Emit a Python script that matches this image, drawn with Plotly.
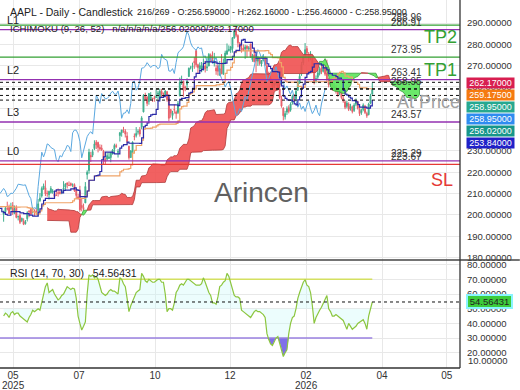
import numpy as np
import plotly.graph_objects as go

# ---------------- data ----------------
pre_high = [215.2, 215.15, 218.76, 217.49, 218.84, 221.48, 224.1, 225.02, 224.99, 223.81,
            225.62, 223.68, 225.19, 207.49, 199.88, 194.15, 190.34, 200.61, 194.78, 199.54,
            212.94, 203.51, 200.7, 198.83, 193.8, 201.59, 208.0, 208.83, 209.75, 211.5,
            212.24, 213.58, 214.56, 206.99, 204.1, 200.65, 199.44, 200.54, 200.54, 211.27,
            213.94, 213.4, 212.96, 212.57, 209.48, 208.62, 207.04, 202.75, 197.7, 200.74,
            202.73, 203.81, 201.96]
pre_low = [209.97, 211.49, 213.75, 212.22, 211.28, 218.58, 220.08, 220.47, 220.56, 217.68,
           216.23, 218.9, 221.02, 201.25, 187.34, 174.62, 169.21, 171.89, 183.0, 186.06,
           201.16, 199.8, 192.37, 194.42, 189.81, 195.97, 202.8, 202.94, 206.2, 207.46,
           208.37, 206.67, 208.9, 202.16, 198.21, 197.02, 193.25, 196.54, 197.54, 206.75,
           210.58, 211.06, 209.54, 209.77, 204.26, 205.03, 200.71, 199.7, 193.46, 197.43,
           199.9, 198.51, 196.78]

opens = [200.3, 201.4, 202.9, 203.5, 203.0, 204.4, 200.6, 203.5, 199.1, 199.7,
         197.3, 197.2, 195.9, 198.2, 201.6, 202.6, 201.5, 201.4, 201.9, 202.0,
         206.7, 208.9, 212.2, 212.7, 210.1, 209.5, 210.5, 210.6, 209.9, 209.2,
         210.3, 210.6, 210.9, 212.1, 213.1, 215.0, 213.9, 214.7, 214.0, 214.2,
         211.9, 208.5, 210.9, 204.5, 203.4, 205.6, 218.9, 220.8, 227.9, 228.0,
         231.1, 234.1, 234.0, 231.7, 231.3, 229.9, 226.3, 226.2, 226.5, 226.9,
         228.6, 230.8, 232.5, 229.3, 237.2, 238.5, 240.0, 239.3, 237.0, 232.2,
         226.9, 229.2, 237.0, 237.2, 238.9, 239.9, 241.2, 248.3, 255.9, 255.2,
         253.2, 254.1, 254.6, 254.9, 255.0, 256.6, 254.7, 257.9, 256.8, 256.5,
         257.8, 254.9, 249.4, 246.6, 249.5, 248.3, 248.0, 255.9, 261.9, 262.7,
         259.9, 261.2, 264.9, 269.0, 269.3, 272.0, 277.0, 270.4, 268.3, 268.6,
         267.9, 269.8, 269.0, 269.8, 275.0, 274.1, 271.1, 268.8, 270.0, 265.5,
         270.8, 266.0, 270.9, 275.3, 277.0, 277.3, 278.0, 283.0, 286.2, 284.1,
         280.5, 278.1, 278.2, 277.8, 279.1, 277.9, 280.2, 272.8, 275.0, 273.6,
         272.1, 272.9, 270.8, 272.3, 273.6, 270.0, 266.5, 264.3, 262.8, 260.3,
         261.5, 262.0, 259.0, 254.6, 250.0, 246.0, 248.2, 250.3, 249.1, 252.6,
         255.9, 254.5, 258.6, 262.0, 266.0, 271.2, 274.5, 278.0, 275.2, 274.0,
         274.2, 267.0, 263.0, 264.6, 266.2, 268.9, 267.4, 269.0, 266.5, 263.0,
         261.4, 262.0, 259.4, 260.0, 257.6, 256.9, 258.0, 254.6, 253.0, 250.9,
         252.0, 249.8, 250.6, 249.0, 251.9, 253.0, 249.6, 247.9, 249.4, 251.0,
         247.6, 247.0, 252.4, 256.59]
highs = [201.9, 203.8, 206.2, 204.8, 205.7, 206.0, 204.4, 204.5, 199.7, 200.4,
         198.7, 198.4, 197.6, 201.7, 202.3, 203.4, 203.7, 202.6, 203.2, 207.4,
         210.2, 213.3, 214.7, 216.2, 211.4, 211.3, 213.5, 212.1, 210.9, 211.9,
         212.4, 211.8, 211.7, 215.8, 214.9, 215.2, 215.7, 215.2, 214.8, 214.8,
         212.4, 209.8, 213.6, 207.9, 205.3, 215.4, 220.9, 231.0, 229.6, 230.8,
         235.0, 235.1, 234.3, 233.1, 232.9, 230.5, 226.5, 229.1, 229.3, 229.5,
         230.9, 233.4, 233.4, 230.9, 238.9, 239.9, 241.3, 240.2, 238.8, 232.4,
         230.4, 234.5, 238.2, 241.2, 240.1, 241.2, 246.3, 256.6, 257.3, 255.7,
         257.2, 257.6, 255.0, 255.9, 258.8, 258.2, 259.2, 259.1, 257.4, 258.5,
         258.0, 256.4, 249.7, 248.8, 251.8, 249.0, 253.4, 264.4, 265.3, 262.9,
         260.6, 264.1, 269.1, 269.9, 271.4, 274.1, 277.3, 270.9, 271.5, 271.7,
         273.4, 272.3, 273.7, 275.9, 275.7, 276.7, 276.0, 270.5, 270.7, 272.2,
         275.4, 273.3, 277.0, 280.4, 279.5, 279.0, 283.4, 287.4, 288.6, 284.7,
         281.1, 279.7, 280.0, 279.8, 279.6, 279.2, 280.2, 275.5, 276.2, 273.6,
         274.6, 273.9, 272.5, 275.4, 274.3, 270.8, 267.2, 265.0, 263.6, 262.9,
         263.4, 262.3, 259.8, 255.9, 250.5, 248.8, 250.9, 251.4, 252.8, 256.4,
         256.7, 258.9, 263.5, 266.1, 271.8, 275.0, 280.6, 279.2, 276.4, 276.8,
         274.9, 268.3, 265.4, 267.8, 269.6, 270.1, 271.3, 270.4, 272.8, 264.2,
         263.6, 262.7, 261.9, 260.8, 258.7, 259.6, 258.4, 255.8, 253.7, 253.6,
         252.8, 252.1, 251.3, 252.4, 254.6, 253.6, 250.3, 249.8, 252.3, 251.6,
         248.4, 252.6, 256.8, 262.16]
lows = [196.8, 200.9, 202.1, 200.2, 202.1, 200.0, 200.6, 198.4, 197.4, 195.7,
        196.6, 195.2, 195.4, 196.9, 198.9, 200.2, 200.6, 199.5, 200.0, 199.3,
        206.1, 208.1, 211.8, 208.8, 208.5, 207.2, 210.0, 209.9, 207.5, 208.9,
        208.6, 209.6, 209.7, 211.6, 211.5, 212.4, 213.5, 213.4, 213.0, 210.8,
        207.7, 207.1, 201.5, 201.7, 202.2, 205.6, 216.6, 219.3, 224.8, 227.1,
        230.4, 230.9, 229.3, 230.1, 230.0, 223.8, 223.8, 225.4, 226.2, 224.7,
        228.3, 229.3, 231.4, 226.9, 234.4, 236.7, 238.5, 236.3, 233.4, 225.9,
        226.7, 229.0, 235.0, 236.3, 237.7, 236.7, 240.2, 248.1, 253.6, 251.0,
        251.7, 253.8, 253.0, 253.1, 254.9, 254.2, 253.9, 255.1, 255.4, 256.1,
        253.1, 244.0, 245.6, 244.7, 247.5, 245.1, 247.3, 255.6, 261.0, 255.4,
        258.0, 259.2, 264.7, 268.2, 267.1, 268.5, 269.2, 266.3, 267.6, 266.9,
        267.9, 266.8, 267.5, 269.8, 271.7, 272.1, 269.6, 265.7, 265.3, 265.5,
        265.9, 265.7, 270.9, 275.3, 276.6, 276.0, 276.1, 282.6, 283.3, 278.6,
        278.1, 276.1, 276.9, 273.2, 273.8, 276.8, 273.6, 271.8, 271.6, 266.9,
        269.9, 270.0, 269.6, 272.1, 269.8, 265.6, 263.1, 261.8, 258.9, 259.4,
        260.6, 258.6, 254.2, 250.3, 244.3, 244.7, 246.9, 247.6, 248.4, 251.7,
        253.1, 254.0, 258.1, 261.4, 265.2, 270.3, 273.6, 274.3, 271.9, 272.5,
        266.6, 261.2, 261.8, 263.5, 265.4, 266.0, 266.8, 265.2, 262.6, 259.8,
        260.1, 258.2, 258.5, 256.9, 255.4, 256.1, 254.2, 252.6, 249.6, 250.0,
        248.7, 248.9, 247.6, 248.3, 251.0, 249.4, 246.4, 246.9, 248.6, 247.3,
        245.52, 246.7, 251.9, 256.46]
closes = [201.7, 203.3, 202.8, 200.6, 203.9, 201.5, 202.7, 198.8, 199.2, 196.5,
          198.4, 195.6, 196.6, 201.0, 201.5, 200.3, 201.6, 201.0, 201.1, 205.2,
          207.8, 212.4, 213.6, 209.9, 210.0, 211.1, 212.4, 211.2, 208.6, 209.1,
          210.2, 210.0, 211.2, 212.5, 214.4, 214.2, 213.8, 213.9, 214.1, 211.3,
          209.1, 207.6, 202.4, 203.4, 202.9, 213.3, 220.0, 229.4, 227.2, 229.7,
          233.3, 232.8, 231.6, 230.9, 230.6, 226.0, 224.9, 227.8, 227.2, 229.3,
          230.5, 232.6, 232.1, 229.7, 238.5, 239.8, 239.7, 237.9, 234.4, 226.8,
          230.0, 234.1, 236.7, 238.2, 239.0, 237.9, 245.5, 256.1, 254.4, 252.3,
          256.9, 255.5, 254.4, 254.6, 255.5, 257.1, 258.0, 256.7, 256.5, 258.1,
          254.0, 245.3, 247.7, 247.8, 249.3, 247.5, 252.3, 262.2, 262.8, 258.5,
          259.6, 262.8, 268.8, 269.0, 269.7, 271.4, 270.4, 269.1, 270.0, 270.1,
          269.8, 268.5, 269.4, 275.3, 273.5, 273.0, 272.4, 267.5, 267.4, 268.6,
          266.3, 271.5, 275.9, 277.0, 277.6, 278.9, 283.1, 286.2, 284.2, 280.7,
          278.8, 277.9, 277.2, 278.8, 278.0, 278.3, 274.1, 274.6, 271.8, 272.2,
          273.7, 271.0, 272.4, 273.8, 270.5, 266.2, 264.0, 262.5, 260.0, 261.8,
          262.5, 259.5, 255.0, 251.0, 246.5, 247.5, 249.8, 248.5, 252.0, 255.5,
          254.0, 258.0, 262.5, 265.0, 270.5, 274.0, 277.5, 276.0, 273.5, 275.0,
          268.0, 262.5, 264.0, 266.5, 268.5, 267.0, 269.5, 266.0, 263.5, 261.0,
          262.5, 259.0, 260.5, 258.0, 256.5, 258.5, 255.0, 253.5, 250.5, 252.5,
          249.5, 251.0, 248.5, 251.5, 253.5, 250.0, 247.5, 249.0, 251.5, 248.0,
          246.5, 252.0, 256.0, 258.95]

rsi = [45, 47, 46, 44, 47, 48, 46, 47, 47, 45,
       44, 43, 42, 41, 44, 46, 49, 48, 49, 50,
       49, 54, 60, 65, 67.5, 61, 62, 63, 60, 58,
       56, 57, 59, 60, 63, 65, 64, 63, 64, 63.5,
       57, 45, 40, 35.5, 38, 41, 60, 73, 72, 73,
       71, 72, 70, 66, 61, 60, 59, 60, 62, 63,
       62, 62, 61, 60, 71, 70, 67, 65, 57, 48,
       52, 55, 58, 61, 62, 63, 74, 72, 69, 68,
       70, 69, 68, 68, 69, 70, 70, 68, 68, 60,
       48, 50, 50, 49, 54, 61, 63, 66, 67, 66,
       68, 70, 70, 69, 68, 67, 66, 66, 66, 67,
       71, 68, 64, 61, 59, 54, 54, 53, 58, 65,
       66, 68, 69, 74, 72, 68, 64, 59, 58, 58,
       57, 49, 48, 47, 46, 45, 44, 46, 48, 49,
       48, 48, 47, 46, 44, 33, 29, 26, 25, 28,
       30, 31, 27, 23, 17.5, 20, 22, 33, 40, 44,
       45, 50, 57, 61, 65, 68, 69.7, 66, 65, 61,
       52, 40, 44, 47, 49, 51, 54, 56, 59, 50,
       48, 45, 45, 46, 45, 44, 43, 42, 39, 36,
       40, 38, 36, 37, 38, 40, 41, 42, 42.5, 40,
       36, 45, 51, 54.56431]

tick_bars = [5.2, 41.5, 83.4, 124.7, 166.5, 208.4, 244.0]
tick_text = ["05", "07", "10", "12", "02", "04", "05"]
year_text = ["2025", "2026"]

level_vals = [288.96, 286.91, 273.95, 263.41, 258.95, 243.57, 225.29, 223.67]
level_text = ["288.96", "286.91", "273.95", "263.41", "258.95", "243.57", "225.29", "223.67"]
dotted_vals = [262.17, 259.175, 258.95, 256.02, 253.84]
box_vals = ["262.17000", "259.17500", "258.95000", "258.95000", "256.02000", "253.84000"]
rsi_last = 54.56431

# ---------------- style ----------------
SANS = "Liberation Sans, Arial, sans-serif"
GREEN = "#33a033"
PURPLE = "#9330b0"
RED = "#e53935"
GRID = "#e8e8e8"

PLOT_H = 368.0
SPLIT = 260.0
dom_split = (PLOT_H - SPLIT) / PLOT_H
X0, X1 = -2, 251.3
PY0, PY1 = 178.84, 300.79
RY0, RY1 = 9.66, 83.13


def py(ypx):
    return 1 - ypx / PLOT_H


# ---------------- indicators ----------------
hi = np.array(pre_high + highs, dtype=float)
lo = np.array(pre_low + lows, dtype=float)
npre = len(pre_high)
n = len(closes)
bar_full = np.arange(len(hi)) - npre


def dmid(p):
    out = np.full(len(hi), np.nan)
    for i in range(p - 1, len(hi)):
        out[i] = (hi[i - p + 1:i + 1].max() + lo[i - p + 1:i + 1].min()) / 2
    return out


tenkan = dmid(9)
kijun = dmid(26)
spanB = dmid(52)
spanA = (tenkan + kijun) / 2

fig = go.Figure()

# cloud
valid = ~np.isnan(spanA) & ~np.isnan(spanB)
xs = bar_full[valid] + 26
A = spanA[valid]
B = spanB[valid]
segs = []
cx, ca, cb = [xs[0]], [A[0]], [B[0]]
sign = A[0] >= B[0]
for k in range(1, len(xs)):
    s = A[k] >= B[k]
    if s != sign:
        d0 = A[k - 1] - B[k - 1]
        d1 = A[k] - B[k]
        t = d0 / (d0 - d1)
        xc = xs[k - 1] + t * (xs[k] - xs[k - 1])
        yc = A[k - 1] + t * (A[k] - A[k - 1])
        cx.append(xc); ca.append(yc); cb.append(yc)
        segs.append((sign, cx, ca, cb))
        cx, ca, cb = [xc], [yc], [yc]
        sign = s
    cx.append(xs[k]); ca.append(A[k]); cb.append(B[k])
segs.append((sign, cx, ca, cb))
for sgn, sx, sa, sb in segs:
    fig.add_trace(go.Scatter(
        x=list(sx) + list(sx)[::-1], y=list(sa) + list(sb)[::-1],
        fill="toself", mode="lines",
        fillcolor="rgba(240,80,80,0.9)" if sgn else "rgba(90,230,90,0.9)",
        line=dict(color="#b03a3a" if sgn else "#3a9a3a", width=0.8),
        hoverinfo="skip", showlegend=False, xaxis="x", yaxis="y"))

# chikou
cl = np.array(closes)
ch_x = np.arange(n) - 26
m = ch_x >= X0
fig.add_trace(go.Scatter(x=ch_x[m], y=cl[m], mode="lines",
                         line=dict(color="#5aa8e0", width=1),
                         showlegend=False, xaxis="x", yaxis="y"))

# candles
fig.add_trace(go.Candlestick(
    x=list(range(n)), open=opens, high=highs, low=lows, close=closes,
    increasing=dict(line=dict(color="#3fae8e", width=1), fillcolor="#3fae8e"),
    decreasing=dict(line=dict(color="#e8606a", width=1), fillcolor="#e8606a"),
    showlegend=False, xaxis="x", yaxis="y"))

mv = bar_full >= X0
fig.add_trace(go.Scatter(x=bar_full[mv], y=kijun[mv], mode="lines",
                         line=dict(color="#f0a468", width=1.2, shape="hv"),
                         showlegend=False, xaxis="x", yaxis="y"))
fig.add_trace(go.Scatter(x=bar_full[mv], y=tenkan[mv], mode="lines",
                         line=dict(color="#2a2aa8", width=1.2, shape="hv"),
                         showlegend=False, xaxis="x", yaxis="y"))

# RSI
bars = list(range(n))
fig.add_trace(go.Scatter(x=bars + bars[::-1], y=rsi + [50] * n, fill="toself",
                         mode="none", fillcolor="rgba(200,250,250,0.35)",
                         hoverinfo="skip", showlegend=False, xaxis="x2", yaxis="y2"))
fig.add_trace(go.Scatter(x=bars + bars[::-1], y=[min(r, 30) for r in rsi] + [30] * n,
                         fill="toself", mode="none", fillcolor="#8070e8",
                         hoverinfo="skip", showlegend=False, xaxis="x2", yaxis="y2"))
fig.add_trace(go.Scatter(x=[X0, n - 1], y=[70, 70], mode="lines",
                         line=dict(color="#d4e060", width=1.5),
                         showlegend=False, xaxis="x2", yaxis="y2"))
fig.add_trace(go.Scatter(x=[X0, n - 1], y=[30, 30], mode="lines",
                         line=dict(color="#9a80e0", width=1.5),
                         showlegend=False, xaxis="x2", yaxis="y2"))
fig.add_trace(go.Scatter(x=bars, y=rsi, mode="lines",
                         line=dict(color="#8cc63f", width=1.2),
                         showlegend=False, xaxis="x2", yaxis="y2"))

shapes = []
line_colors = [GREEN, PURPLE, GREEN, PURPLE, None, PURPLE, PURPLE, RED]
for v, c in zip(level_vals, line_colors):
    if c is None:
        continue
    shapes.append(dict(type="line", xref="paper", yref="y", x0=0, x1=1, y0=v, y1=v,
                       line=dict(color=c, width=1.3), layer="above"))
for v in dotted_vals:
    shapes.append(dict(type="line", xref="paper", yref="y", x0=0, x1=1, y0=v, y1=v,
                       line=dict(color="#111", width=1, dash="3px,3px"), layer="above"))
shapes.append(dict(type="line", xref="paper", yref="y2", x0=0, x1=1, y0=rsi_last, y1=rsi_last,
                   line=dict(color="#111", width=1, dash="3px,3px"), layer="above"))
# frame lines
shapes.append(dict(type="line", xref="paper", yref="paper", x0=0, x1=1.13, y0=dom_split, y1=dom_split,
                   line=dict(color="#444", width=1.3), layer="above"))
shapes.append(dict(type="line", xref="paper", yref="paper", x0=1, x1=1, y0=0, y1=1,
                   line=dict(color="#333", width=1.3), layer="above"))
shapes.append(dict(type="line", xref="paper", yref="paper", x0=0, x1=1, y0=0, y1=0,
                   line=dict(color="#333", width=1.3), layer="above"))

ann = []
lab_x = 424 / 460
for v, t in zip(level_vals, level_text):
    ann.append(dict(x=lab_x, xref="paper", y=v, yref="y", text=t, showarrow=False,
                    xanchor="right", yanchor="bottom", yshift=0,
                    font=dict(family=SANS, size=10, color="#333")))
for t, v in zip(["L1", "L2", "L3", "L0"], [286.91, 263.41, 243.57, 225.29]):
    ann.append(dict(x=5 / 460, xref="paper", y=v, yref="y", text=t, showarrow=False,
                    xanchor="left", yanchor="bottom", yshift=2,
                    font=dict(family=SANS, size=11, color="#222")))
big = [("TP2", 440, 37, GREEN), ("TP1", 440, 70, GREEN), ("At Price", 428, 102, "#a0a0a0"),
       ("SL", 442, 180, RED)]
for t, xp, yp, c in big:
    ann.append(dict(x=xp / 460, xref="paper", y=py(yp), yref="paper", text=t, showarrow=False,
                    xanchor="center", yanchor="middle",
                    font=dict(family=SANS, size=18, color=c)))
ann.append(dict(x=261 / 460, xref="paper", y=py(192), yref="paper", text="Arincen",
                showarrow=False, xanchor="center", yanchor="middle",
                font=dict(family=SANS, size=28, color="#606060")))
ann.append(dict(x=8 / 460, xref="paper", y=py(12), yref="paper",
                text="AAPL - Daily - Candlestick",
                showarrow=False, xanchor="left", yanchor="middle",
                font=dict(family=SANS, size=10.5, color="#222")))
ann.append(dict(x=135 / 460, xref="paper", y=py(12), yref="paper",
                text="216/269 - O:256.59000 - H:262.16000 - L:256.46000 - C:258.95000",
                showarrow=False, xanchor="left", yanchor="middle",
                font=dict(family=SANS, size=9.0, color="#222")))
ann.append(dict(x=8 / 460, xref="paper", y=py(29), yref="paper",
                text="ICHIMOKU (9, 26, 52)   n/a/n/a/n/a/256.02000/262.17000",
                showarrow=False, xanchor="left", yanchor="middle",
                font=dict(family=SANS, size=9.6, color="#222")))
ann.append(dict(x=8 / 460, xref="paper", y=py(273), yref="paper",
                text="RSI (14, 70, 30)   54.56431",
                showarrow=False, xanchor="left", yanchor="middle",
                font=dict(family=SANS, size=10.5, color="#222")))
box_colors = ["#d81e50", "#f57a10", "#26a890", "#2f8cf0", "#16968a", "#2020c8"]
box_y = [83, 95, 107, 119, 131, 143]
for t, c, yp in zip(box_vals, box_colors, box_y):
    ann.append(dict(x=466 / 460, xref="paper", y=py(yp), yref="paper", text=t, showarrow=False,
                    xanchor="left", yanchor="middle", bgcolor=c, borderpad=0,
                    width=47, align="center",
                    font=dict(family=SANS, size=9, color="#ffffff")))
ann.append(dict(x=466 / 460, xref="paper", y=rsi_last, yref="y2", text="54.56431", showarrow=False,
                xanchor="left", yanchor="middle", bgcolor="#3ccc3c", borderpad=0,
                bordercolor="#8af4ff", borderwidth=2, width=43, align="center",
                font=dict(family=SANS, size=9.5, color="#222")))
ann.append(dict(x=466 / 460, xref="paper", y=py(360), yref="paper", text="10.00000", showarrow=False,
                xanchor="left", yanchor="middle",
                font=dict(family=SANS, size=9.5, color="#333")))
for t, b in zip(year_text, [tick_bars[0], tick_bars[4]]):
    ann.append(dict(x=b, xref="x2", y=py(385), yref="paper", text=t, showarrow=False,
                    xanchor="center", yanchor="middle",
                    font=dict(family=SANS, size=10, color="#333")))

fig.update_layout(
    width=520, height=390, margin=dict(l=0, r=60, t=0, b=22),
    paper_bgcolor="white", plot_bgcolor="white", showlegend=False,
    shapes=shapes, annotations=ann,
    xaxis=dict(domain=[0, 1], anchor="y", range=[X0, X1], tickmode="array", tickvals=tick_bars,
               showticklabels=False, showgrid=True, gridcolor=GRID, zeroline=False,
               rangeslider=dict(visible=False), fixedrange=True),
    yaxis=dict(domain=[dom_split, 1], anchor="x", side="right", range=[PY0, PY1],
               tickmode="array", tickvals=list(range(180, 300, 10)), tickformat=".5f",
               showgrid=True, gridcolor=GRID, zeroline=False, ticks="", ticklabelstandoff=6,
               tickfont=dict(family=SANS, size=9.5, color="#333")),
    xaxis2=dict(domain=[0, 1], anchor="y2", range=[X0, X1], matches="x", tickmode="array",
                tickvals=tick_bars, ticktext=tick_text, showgrid=True, gridcolor=GRID,
                zeroline=False, ticks="", tickfont=dict(family=SANS, size=10, color="#333")),
    yaxis2=dict(domain=[0, dom_split], anchor="x2", side="right", range=[RY0, RY1],
                tickmode="array", tickvals=[20, 30, 40, 50, 60, 70, 80], tickformat=".5f",
                showgrid=True, gridcolor=GRID, zeroline=False, ticks="", ticklabelstandoff=6,
                tickfont=dict(family=SANS, size=9.5, color="#333")),
)

fig.write_html("out.html")
